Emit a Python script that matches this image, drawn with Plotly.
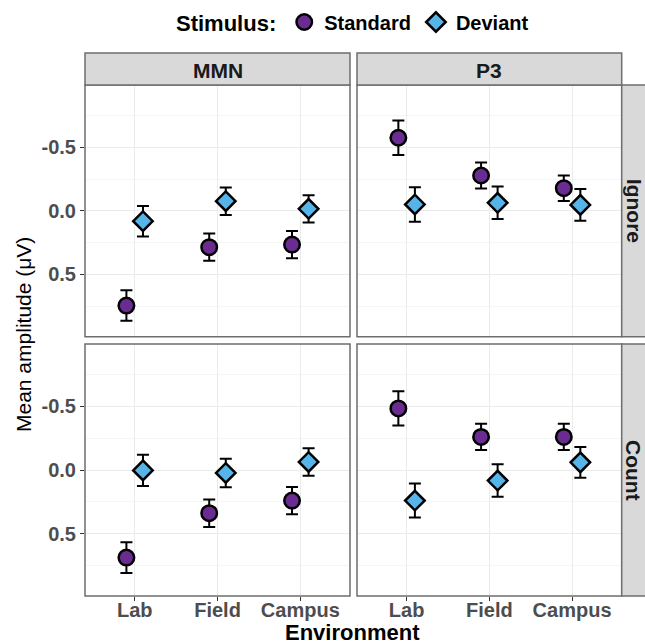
import plotly.graph_objects as go

# ---- data ----
environments = ["Lab", "Field", "Campus"]
stimuli = ["Standard", "Deviant"]
components = ["MMN", "P3"]
tasks = ["Ignore", "Count"]

# means (µV) and standard errors, per task/component/stimulus
ignore_mmn_std = [0.745, 0.286, 0.265]
ignore_mmn_std_se = [0.120, 0.107, 0.107]
ignore_mmn_dev = [0.081, -0.076, -0.016]
ignore_mmn_dev_se = [0.120, 0.108, 0.107]

ignore_p3_std = [-0.575, -0.278, -0.178]
ignore_p3_std_se = [0.135, 0.103, 0.101]
ignore_p3_dev = [-0.050, -0.063, -0.047]
ignore_p3_dev_se = [0.136, 0.128, 0.125]

count_mmn_std = [0.688, 0.339, 0.240]
count_mmn_std_se = [0.121, 0.108, 0.107]
count_mmn_dev = [0.003, 0.023, -0.063]
count_mmn_dev_se = [0.122, 0.112, 0.108]

count_p3_std = [-0.484, -0.260, -0.260]
count_p3_std_se = [0.134, 0.103, 0.103]
count_p3_dev = [0.240, 0.083, -0.060]
count_p3_dev_se = [0.134, 0.128, 0.121]

y_ticks = [-0.5, 0.0, 0.5]
y_ticktext = ["-0.5", "0.0", "0.5"]

panels = {
    ("Ignore", "MMN"): (ignore_mmn_std, ignore_mmn_std_se, ignore_mmn_dev, ignore_mmn_dev_se),
    ("Ignore", "P3"): (ignore_p3_std, ignore_p3_std_se, ignore_p3_dev, ignore_p3_dev_se),
    ("Count", "MMN"): (count_mmn_std, count_mmn_std_se, count_mmn_dev, count_mmn_dev_se),
    ("Count", "P3"): (count_p3_std, count_p3_std_se, count_p3_dev, count_p3_dev_se),
}

# ---- style ----
FONT = "Liberation Sans, Arial, Helvetica, sans-serif"
W, H = 645, 644
COLORS = {"Standard": "#6A2C91", "Deviant": "#56B4E9"}
SYMBOLS = {"Standard": "circle", "Deviant": "diamond"}
SIZES = {"Standard": 15.5, "Deviant": 15}
DODGE = {"Standard": -0.1, "Deviant": 0.1}

col_px = [(85, 350), (357, 621.7)]
row_px = [(85, 336.7), (344, 596)]

def xd(px):
    return px / W

def yd(py):
    return 1 - py / H

fig = go.Figure()
layout_axes = {}
idx = 0
for r, task in enumerate(tasks):
    for c, comp in enumerate(components):
        idx += 1
        sfx = "" if idx == 1 else str(idx)
        std, std_se, dev, dev_se = panels[(task, comp)]
        for stim, vals, se in (("Standard", std, std_se), ("Deviant", dev, dev_se)):
            xs = [i + 1 + DODGE[stim] for i in range(len(environments))]
            fig.add_trace(go.Scatter(
                x=xs, y=vals, mode="markers", name=stim,
                legendgroup=stim, showlegend=(idx == 1),
                xaxis="x" + sfx, yaxis="y" + sfx,
                marker=dict(symbol=SYMBOLS[stim], size=SIZES[stim], color=COLORS[stim],
                            line=dict(color="black", width=2.5)),
                error_y=dict(type="data", array=se, arrayminus=se, visible=True,
                             color="black", thickness=2, width=6),
                hoverinfo="skip",
            ))
        x0, x1 = col_px[c]
        y0, y1 = row_px[r]
        layout_axes["xaxis" + sfx] = dict(
            domain=[xd(x0), xd(x1)], anchor="y" + sfx, range=[0.4, 3.6],
            tickvals=[1, 2, 3], ticktext=environments if r == 1 else ["", "", ""],
            showticklabels=(r == 1), ticks="outside" if r == 1 else "", ticklen=4,
            tickcolor="#333333", tickwidth=1, ticklabelstandoff=-8,
            showgrid=True, gridcolor="#EBEBEB", gridwidth=1, zeroline=False,
            showline=False,
            tickfont=dict(family=FONT, size=20, color="#4D4D4D", weight="bold"),
        )
        layout_axes["yaxis" + sfx] = dict(
            domain=[yd(y1), yd(y0)], anchor="x" + sfx, range=[0.99, -0.99],
            tickvals=y_ticks, ticktext=y_ticktext,
            showticklabels=(c == 0), ticks="outside" if c == 0 else "", ticklen=4,
            tickcolor="#333333", tickwidth=1,
            showgrid=True, gridcolor="#EBEBEB", gridwidth=1, zeroline=False,
            showline=False,
            minor=dict(tickvals=[-0.75, -0.25, 0.25, 0.75], showgrid=True,
                       gridcolor="#F2F2F2", gridwidth=0.8, ticks=""),
            tickfont=dict(family=FONT, size=20, color="#4D4D4D", weight="bold"),
        )

shapes = []
annotations = []
BORDER = "#6E6E6E"
# panel borders
for (x0, x1) in col_px:
    for (y0, y1) in row_px:
        shapes.append(dict(type="rect", xref="paper", yref="paper",
                           x0=xd(x0), x1=xd(x1), y0=yd(y1), y1=yd(y0),
                           line=dict(color=BORDER, width=1.5), fillcolor="rgba(0,0,0,0)",
                           layer="above"))
# top strips
for c, comp in enumerate(components):
    x0, x1 = col_px[c]
    shapes.append(dict(type="rect", xref="paper", yref="paper",
                       x0=xd(x0), x1=xd(x1), y0=yd(85), y1=yd(53),
                       line=dict(color=BORDER, width=1.5), fillcolor="#D9D9D9"))
    annotations.append(dict(text=comp, xref="paper", yref="paper",
                            x=xd((x0 + x1) / 2), y=yd(70), showarrow=False,
                            xanchor="center", yanchor="middle",
                            font=dict(family=FONT, size=21, color="#1A1A1A", weight="bold")))
# right strips
for r, task in enumerate(tasks):
    y0, y1 = row_px[r]
    shapes.append(dict(type="rect", xref="paper", yref="paper",
                       x0=xd(621.7), x1=xd(652), y0=yd(y1), y1=yd(y0),
                       line=dict(color=BORDER, width=1.5), fillcolor="#D9D9D9"))
    annotations.append(dict(text=task, xref="paper", yref="paper",
                            x=xd(634), y=yd((y0 + y1) / 2), showarrow=False,
                            textangle=90, xanchor="center", yanchor="middle",
                            font=dict(family=FONT, size=21, color="#1A1A1A", weight="bold")))
# axis titles
annotations.append(dict(text="Environment", xref="paper", yref="paper",
                        x=xd(353), y=yd(632), showarrow=False,
                        xanchor="center", yanchor="middle",
                        font=dict(family=FONT, size=22, color="black", weight="bold")))
annotations.append(dict(text="Mean amplitude (μV)", xref="paper", yref="paper",
                        x=xd(23), y=yd(335), showarrow=False, textangle=-90,
                        xanchor="center", yanchor="middle",
                        font=dict(family=FONT, size=21, color="black")))

fig.update_layout(
    width=W, height=H, autosize=False,
    margin=dict(l=0, r=0, t=0, b=0),
    paper_bgcolor="white", plot_bgcolor="white",
    shapes=shapes, annotations=annotations,
    showlegend=True,
    legend=dict(orientation="h", x=xd(354), xanchor="center", y=yd(22), yanchor="middle",
                title=dict(text="Stimulus:", side="left",
                           font=dict(family=FONT, size=22, color="black", weight="bold")),
                font=dict(family=FONT, size=20, color="black", weight="bold"),
                bgcolor="rgba(0,0,0,0)", itemclick=False, itemdoubleclick=False),
    **layout_axes,
)

fig.write_html(
    "out.html",
    config={"displayModeBar": False, "staticPlot": True},
    post_script="document.body.style.margin='0';document.body.style.overflow='hidden';",
)
